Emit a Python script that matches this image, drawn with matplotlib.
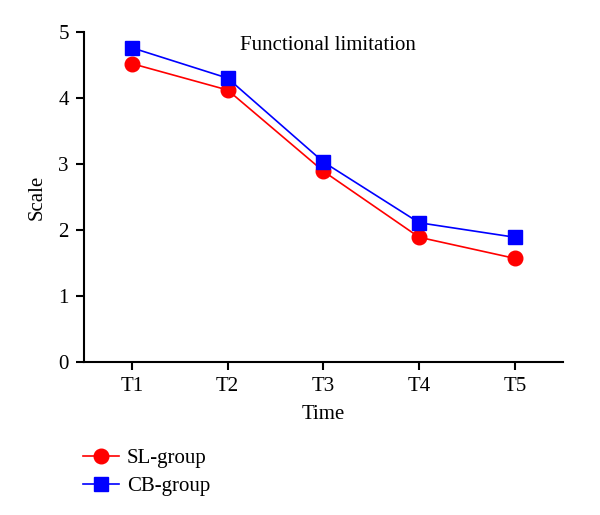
import matplotlib
matplotlib.use('Agg')
import matplotlib.pyplot as plt

plt.rcParams['font.family'] = ['Liberation Serif', 'DejaVu Serif']

times = ['T1', 'T2', 'T3', 'T4', 'T5']
sl_group = [4.52, 4.12, 2.89, 1.89, 1.57]
cb_group = [4.76, 4.30, 3.03, 2.11, 1.89]

fig = plt.figure(figsize=(6, 5.15), dpi=100)
ax = fig.add_axes([0.14, 0.297, 0.798, 0.641])

x = range(1, len(times) + 1)
ax.plot(x, sl_group, '-o', color='#ff0000', lw=1.2, ms=10.5, label='SL-group')
ax.plot(x, cb_group, '-s', color='#0000ff', lw=1.2, ms=10.5, label='CB-group')

ax.set_xlim(0.5, 5.5)
ax.set_ylim(0, 5)
ax.set_xticks(list(x))
ax.set_xticklabels(times)
ax.set_yticks(range(0, 6))
ax.spines['top'].set_visible(False)
ax.spines['right'].set_visible(False)
ax.spines['left'].set_linewidth(1.5)
ax.spines['bottom'].set_linewidth(1.5)
ax.tick_params(direction='out', length=6, width=1.5, labelsize=15, pad=5)
ax.set_xlabel('Time', fontsize=15, labelpad=6)
ax.set_ylabel('Scale', fontsize=15, labelpad=8)
ax.text(0.51, 0.958, 'Functional limitation', transform=ax.transAxes,
        ha='center', va='center', fontsize=15)

fig.legend(loc='upper left', bbox_to_anchor=(0.125, 0.145), frameon=False,
           fontsize=15, handlelength=1.7, handletextpad=0.4, labelspacing=0.4,
           borderaxespad=0)

fig.savefig('out.png', dpi=100)
